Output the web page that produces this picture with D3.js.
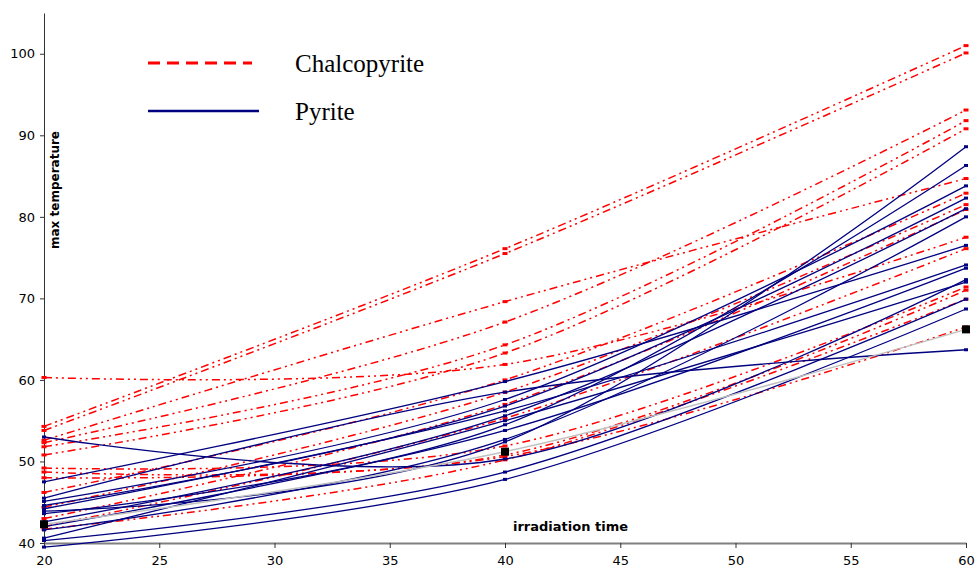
<!DOCTYPE html>
<html>
<head>
<meta charset="utf-8">
<script src="https://cdn.jsdelivr.net/npm/d3@7"></script>
<style>
  body { margin: 0; background: #fff; }
  svg { display: block; }
</style>
</head>
<body>
<div id="chart"></div>
<script>
// irradiation times (x) and max temperature readings per sample (y)
const times = [20, 40, 60];

const chalcopyrite = [
  [54.3, 76.1, 101.0],
  [53.8, 75.5, 100.1],
  [52.6, 69.6, 84.7],
  [52.3, 67.1, 93.1],
  [51.8, 64.3, 91.8],
  [50.8, 63.3, 90.8],
  [60.3, 61.9, 77.5],
  [49.2, 51.9, 71.4],
  [48.7, 50.8, 71.0],
  [48.0, 50.6, 66.5],
  [46.2, 60.0, 82.9],
  [44.4, 58.5, 81.5],
  [43.0, 57.0, 80.9],
  [42.0, 55.3, 76.1],
  [41.7, 50.2, 69.9]
];

const pyrite = [
  [53.0, 50.3, 72.3],
  [47.5, 59.8, 76.5],
  [45.5, 58.5, 63.7],
  [45.1, 57.6, 83.8],
  [44.6, 56.8, 82.3],
  [44.2, 56.2, 74.1],
  [43.9, 52.4, 88.6],
  [43.6, 54.5, 86.3],
  [42.6, 55.6, 81.0],
  [42.0, 53.8, 73.7],
  [41.6, 52.7, 80.0],
  [40.6, 55.0, 72.0],
  [40.3, 48.7, 69.9],
  [39.5, 47.8, 68.7]
];

const average = [42.3, 51.2, 66.2];

const xTicks = [20, 25, 30, 35, 40, 45, 50, 55, 60];
const yTicks = [40, 50, 60, 70, 80, 90, 100];
const legendNames = ["Chalcopyrite", "Pyrite"];

var width = 975, height = 570;

var svg = d3.select("#chart")
    .append("svg")
    .attr("width", width)
    .attr("height", height);

var xScale = d3.scaleLinear()
    .domain([20, 60])
    .range([44, 966]);

var yScale = d3.scaleLinear()
    .domain([40, 105])
    .range([543, 13]);

// y axis
var yAxis = svg.append("g")
    .attr("transform", "translate(44,0)")
    .call(d3.axisLeft(yScale).tickValues(yTicks).tickSize(4).tickSizeOuter(0).tickPadding(5));
yAxis.select(".domain").attr("stroke", "#333");
yAxis.selectAll(".tick line").attr("stroke", "#333");
yAxis.selectAll("text")
    .style("font-family", "DejaVu Sans, sans-serif")
    .style("font-size", "13px")
    .attr("fill", "#000");

// x axis
var xAxis = svg.append("g")
    .attr("transform", "translate(0,543)")
    .call(d3.axisBottom(xScale).tickValues(xTicks).tickSize(5).tickSizeOuter(0).tickPadding(8));
xAxis.select(".domain").attr("stroke", "#808080").attr("stroke-width", 2);
xAxis.selectAll(".tick line").attr("stroke", "#333");
xAxis.selectAll("text")
    .style("font-family", "DejaVu Sans, sans-serif")
    .style("font-size", "13px")
    .attr("fill", "#000");

// axis titles
svg.append("text")
    .attr("x", 513)
    .attr("y", 531)
    .text("irradiation time")
    .style("font-family", "DejaVu Sans, sans-serif")
    .style("font-weight", "bold")
    .style("font-size", "13px");

svg.append("text")
    .attr("transform", "translate(59,190) rotate(-90)")
    .attr("text-anchor", "middle")
    .text("max temperature")
    .style("font-family", "DejaVu Sans, sans-serif")
    .style("font-weight", "bold")
    .style("font-size", "12px");

var line = d3.line()
    .x((d, i) => xScale(times[i]))
    .y(d => yScale(d))
    .curve(d3.curveCatmullRom.alpha(0));

function drawMarkers(g, rows, color, w, h) {
    rows.forEach(function(row) {
        g.selectAll(null)
            .data(row)
            .enter()
            .append("rect")
            .attr("x", (d, i) => xScale(times[i]) - w / 2)
            .attr("y", d => yScale(d) - h / 2)
            .attr("width", w)
            .attr("height", h)
            .attr("fill", color);
    });
}

// chalcopyrite series
var redG = svg.append("g");
redG.selectAll("path")
    .data(chalcopyrite)
    .enter()
    .append("path")
    .attr("d", line)
    .attr("fill", "none")
    .attr("stroke", "#ff0000")
    .attr("stroke-width", 1.5)
    .attr("stroke-dasharray", "8,4,2,4,2,4");
drawMarkers(redG, chalcopyrite, "#ff0000", 5, 3);

// pyrite series
var blueG = svg.append("g");
blueG.selectAll("path")
    .data(pyrite)
    .enter()
    .append("path")
    .attr("d", line)
    .attr("fill", "none")
    .attr("stroke", "#000080")
    .attr("stroke-width", 1.3);
drawMarkers(blueG, pyrite, "#000080", 4, 3);

// average series
var avgG = svg.append("g");
avgG.append("path")
    .attr("d", line(average))
    .attr("fill", "none")
    .attr("stroke", "#c0c0c0")
    .attr("stroke-width", 1.5);
drawMarkers(avgG, [average], "#000", 8, 8);

// legend
var legend = svg.append("g").attr("class", "legend");
legend.append("line")
    .attr("x1", 148).attr("x2", 252)
    .attr("y1", 63).attr("y2", 63)
    .attr("stroke", "#ff0000")
    .attr("stroke-width", 3)
    .attr("stroke-dasharray", "12,7");
legend.append("line")
    .attr("x1", 148).attr("x2", 259)
    .attr("y1", 111).attr("y2", 111)
    .attr("stroke", "#000080")
    .attr("stroke-width", 2.5);
legend.selectAll("text.lbl")
    .data(legendNames)
    .enter()
    .append("text")
    .attr("class", "lbl")
    .attr("x", 295)
    .attr("y", (d, i) => 72 + i * 48)
    .text(d => d)
    .style("font-family", "Liberation Serif, Times New Roman, serif")
    .style("font-size", "25px");
</script>
</body>
</html>
